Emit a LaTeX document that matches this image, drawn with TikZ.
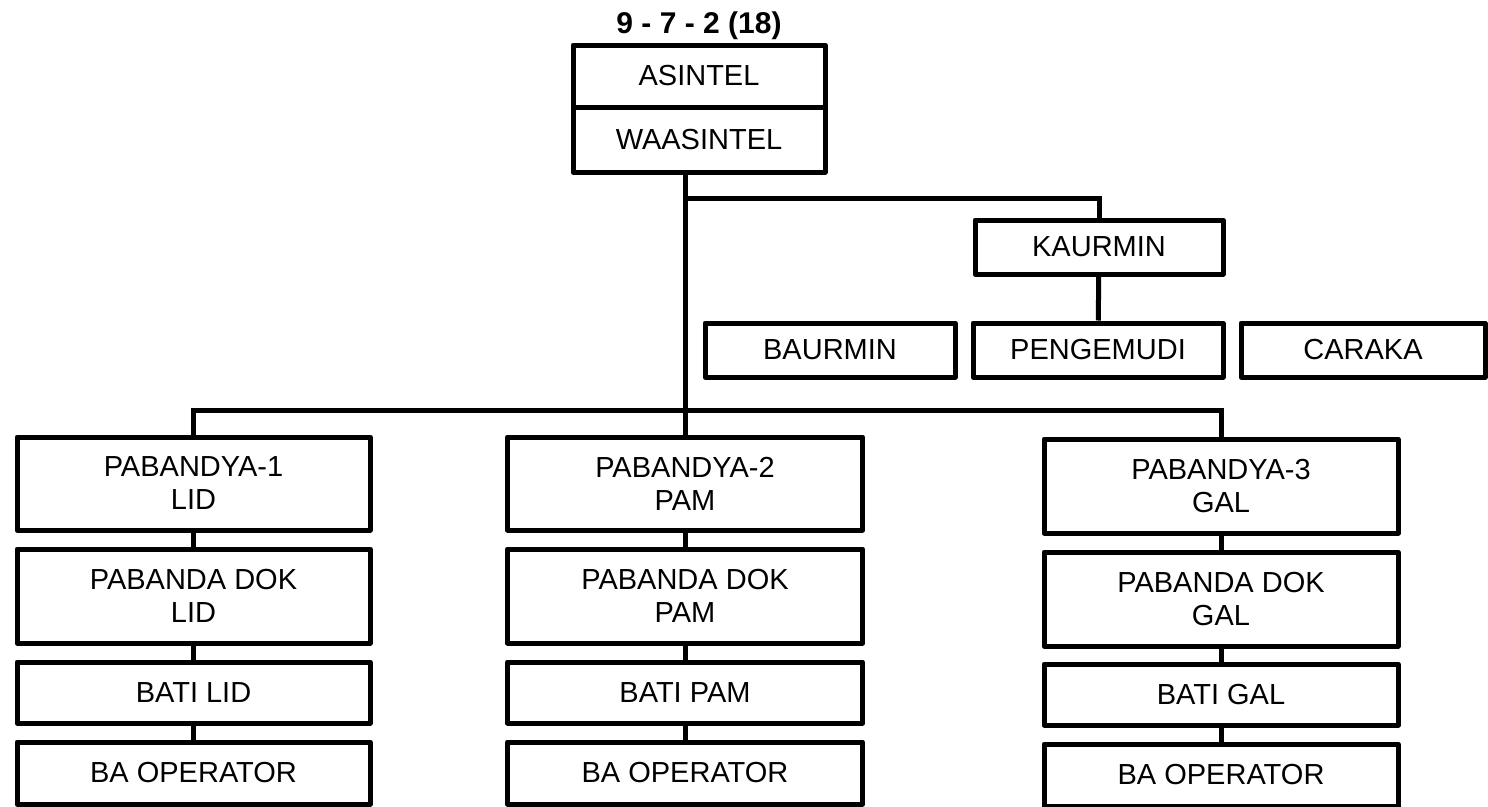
\documentclass[tikz,border=0pt]{standalone}
\usepackage{fontspec}
\setmainfont{Liberation Sans}
\begin{document}
\begin{tikzpicture}[x=1pt,y=-1pt,
    unit/.style={draw,line width=5pt,line join=round,inner sep=0pt,align=center,
        font=\fontsize{29}{33}\selectfont},
    link/.style={line width=5pt}]
    \useasboundingbox (0,0) rectangle (1488,806);
    % top
    \node[anchor=base,font=\fontsize{30}{33}\selectfont\bfseries] (total) at (699,33) {9 - 7 - 2 (18)};
    \node[unit,minimum width=252,minimum height=62] (asintel) at (699,76) {ASINTEL};
    \node[unit,minimum width=252,minimum height=65] (waasintel) at (699,139.5) {WAASINTEL};
    % urmin
    \node[unit,minimum width=248,minimum height=54] (kaurmin) at (1099,247) {KAURMIN};
    \node[unit,minimum width=250,minimum height=54] (baurmin) at (830,350) {BAURMIN};
    \node[unit,minimum width=250,minimum height=54] (pengemudi) at (1098,350) {PENGEMUDI};
    \node[unit,minimum width=244,minimum height=54] (caraka) at (1363,350) {CARAKA};
    % column LID
    \node[unit,minimum width=353,minimum height=93] (pab1) at (193.5,483.5) {PABANDYA-1\\LID};
    \node[unit,minimum width=353,minimum height=94] (dok1) at (193.5,596) {PABANDA DOK\\LID};
    \node[unit,minimum width=353,minimum height=61] (bati1) at (193.5,692.5) {BATI LID};
    \node[unit,minimum width=353,minimum height=62] (op1) at (193.5,773) {BA OPERATOR};
    % column PAM
    \node[unit,minimum width=355,minimum height=93] (pab2) at (685,483.5) {PABANDYA-2\\PAM};
    \node[unit,minimum width=355,minimum height=94] (dok2) at (685,596) {PABANDA DOK\\PAM};
    \node[unit,minimum width=355,minimum height=61] (bati2) at (685,692.5) {BATI PAM};
    \node[unit,minimum width=355,minimum height=62] (op2) at (685,773) {BA OPERATOR};
    % column GAL
    \node[unit,minimum width=354,minimum height=94] (pab3) at (1221,486) {PABANDYA-3\\GAL};
    \node[unit,minimum width=354,minimum height=94] (dok3) at (1221,599) {PABANDA DOK\\GAL};
    \node[unit,minimum width=354,minimum height=61] (bati3) at (1221,694.5) {BATI GAL};
    \node[unit,minimum width=354,minimum height=62] (op3) at (1221,775) {BA OPERATOR};
    % lines
    \coordinate (fork) at (685,198);
    \coordinate (bar) at (685,410);
    \draw[link] (pab2.north |- waasintel.south) -- (pab2.north);
    \draw[link] (fork) -| (kaurmin.north);
    \draw[link] (kaurmin) -- (pengemudi);
    \draw[link] (pab1.north) |- (bar) -| (pab3.north);
    \draw[link] (pab1) -- (dok1);
    \draw[link] (dok1) -- (bati1);
    \draw[link] (bati1) -- (op1);
    \draw[link] (pab2) -- (dok2);
    \draw[link] (dok2) -- (bati2);
    \draw[link] (bati2) -- (op2);
    \draw[link] (pab3) -- (dok3);
    \draw[link] (dok3) -- (bati3);
    \draw[link] (bati3) -- (op3);
\end{tikzpicture}
\end{document}
